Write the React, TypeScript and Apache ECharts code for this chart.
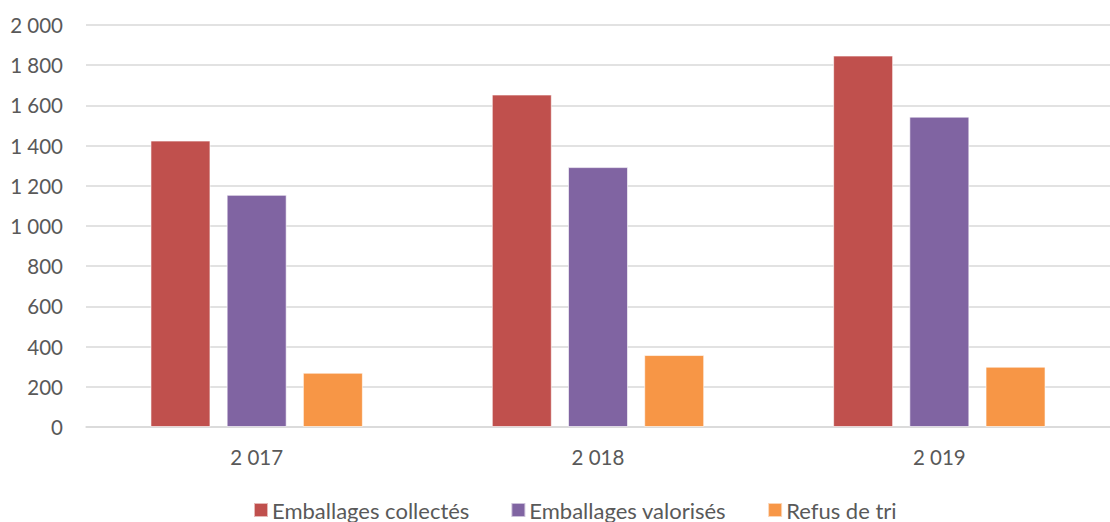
import React, { useEffect, useRef } from "react";
import * as echarts from "echarts";

const categories = ["2 017", "2 018", "2 019"];
const collectes = [1425, 1654, 1848];
const valorises = [1155, 1293, 1544];
const refus = [270, 358, 300];
const seriesNames = ["Emballages collectés", "Emballages valorisés", "Refus de tri"];
const colors = ["#C0504D", "#8064A2", "#F79646"];

const fmt = (v: number) => {
  const s = String(Math.round(v));
  return s.replace(/\B(?=(\d{3})+(?!\d))/g, "\u00a0");
};

export default function App() {
  const ref = useRef<HTMLDivElement>(null);
  useEffect(() => {
    document.body.style.margin = "0";
    const chart = echarts.init(ref.current!, null, { renderer: "svg" });
    const font = "Lato";
    const mk = (name: string, data: number[], color: string) => ({
      name,
      type: "bar",
      data,
      barWidth: 60,
      barGap: "27%",
      itemStyle: { color, borderColor: "rgba(255,255,255,0.6)", borderWidth: 1 },
    });
    chart.setOption({
      animation: false,
      backgroundColor: "#ffffff",
      textStyle: { fontFamily: font },
      grid: { left: 86, top: 25, width: 1034, height: 402, containLabel: false },
      xAxis: {
        type: "category",
        data: categories,
        axisLine: { lineStyle: { color: "#D9D9D9", width: 1.5 } },
        axisTick: { show: false },
        axisLabel: { color: "#595959", fontSize: 20.5, margin: 19, fontFamily: font },
      },
      yAxis: {
        type: "value",
        min: 0,
        max: 2000,
        interval: 200,
        axisLine: { show: false },
        axisTick: { show: false },
        splitLine: { lineStyle: { color: "#D9D9D9", width: 1.5 } },
        axisLabel: { color: "#595959", fontSize: 20.5, margin: 23, fontFamily: font, formatter: (v: number) => fmt(v) },
      },
      legend: {
        data: seriesNames,
        top: 499,
        left: 253,
        padding: 0,
        itemWidth: 14,
        itemHeight: 14,
        itemGap: 41,
        icon: "rect",
        textStyle: { color: "#595959", fontSize: 22, fontFamily: font, padding: [0, 0, 0, -1] },
      },
      series: [
        mk(seriesNames[0], collectes, colors[0]),
        mk(seriesNames[1], valorises, colors[1]),
        mk(seriesNames[2], refus, colors[2]),
      ],
    });
    return () => chart.dispose();
  }, []);
  return <div ref={ref} style={{ width: 1110, height: 522 }} />;
}
